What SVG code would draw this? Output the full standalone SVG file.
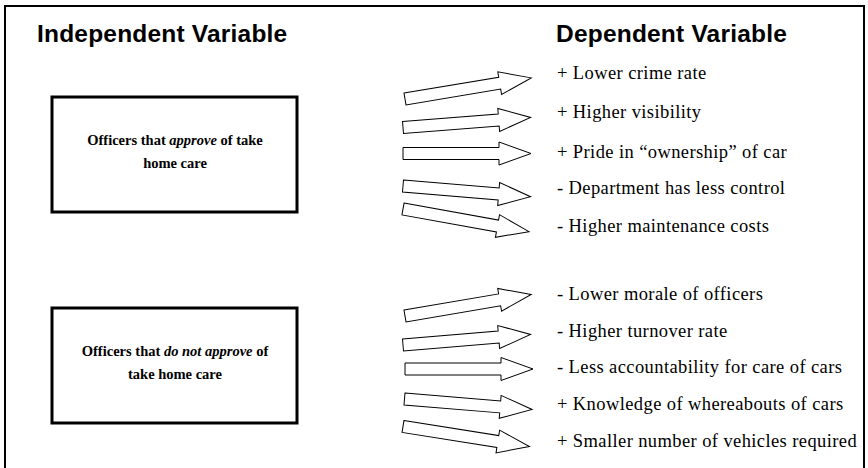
<svg xmlns="http://www.w3.org/2000/svg" width="868" height="468" viewBox="0 0 868 468">
<style>
.head{font-family:"Liberation Sans",Arial,sans-serif;font-weight:bold;font-size:24.5px;letter-spacing:0.2px;fill:#000}
.box{fill:#fff;stroke:#000;stroke-width:3}
.bt{font-family:"Liberation Serif","Times New Roman",serif;font-weight:bold;font-size:14.5px;fill:#000;text-anchor:middle}
.it{font-family:"Liberation Serif","Times New Roman",serif;font-size:18.5px;fill:#000;letter-spacing:0.4px}
.arr{fill:#fff;stroke:#000;stroke-width:1}
</style>
<defs>
<polygon id="arrow" class="arr" points="0,-6 96,-6 96,-11.5 128,0 96,11.5 96,6 0,6"/>
</defs>
<rect x="0" y="0" width="868" height="468" fill="#fff"/>
<rect x="5" y="6" width="859" height="470" fill="none" stroke="#000" stroke-width="2"/>
<g id="titles">
<text class="head" x="37" y="42">Independent Variable</text>
<text class="head" x="556" y="42">Dependent Variable</text>
</g>
<g id="node-approve">
<rect class="box" x="52" y="97" width="245" height="115"/>
<text class="bt" x="175" y="145">Officers that <tspan font-style="italic">approve</tspan> of take</text>
<text class="bt" x="175" y="168">home care</text>
</g>
<g id="node-disapprove">
<rect class="box" x="52" y="308" width="245" height="115"/>
<text class="bt" x="175" y="356">Officers that <tspan font-style="italic">do not approve</tspan> of</text>
<text class="bt" x="175" y="379">take home care</text>
</g>
<g id="connectors">
<use href="#arrow" transform="translate(405,99) rotate(-9.5)"/>
<use href="#arrow" transform="translate(403,127.5) rotate(-4.5)"/>
<use href="#arrow" transform="translate(403,153.5)"/>
<use href="#arrow" transform="translate(403,186) rotate(4.8)"/>
<use href="#arrow" transform="translate(403,209) rotate(10.2)"/>
<use href="#arrow" transform="translate(405,316) rotate(-9.7)"/>
<use href="#arrow" transform="translate(403,345) rotate(-4.75)"/>
<use href="#arrow" transform="translate(405,369)"/>
<use href="#arrow" transform="translate(404.5,399) rotate(4.7)"/>
<use href="#arrow" transform="translate(403,426.5) rotate(9)"/>
</g>
<g id="effects-approve">
<text class="it" x="557" y="79">+ Lower crime rate</text>
<text class="it" x="557" y="118">+ Higher visibility</text>
<text class="it" x="557" y="158">+ Pride in “ownership” of car</text>
<text class="it" x="557" y="194">- Department has less control</text>
<text class="it" x="557" y="232">- Higher maintenance costs</text>
</g>
<g id="effects-disapprove">
<text class="it" x="557" y="300">- Lower morale of officers</text>
<text class="it" x="557" y="337">- Higher turnover rate</text>
<text class="it" x="557" y="373">- Less accountability for care of cars</text>
<text class="it" x="557" y="410">+ Knowledge of whereabouts of cars</text>
<text class="it" x="557" y="447">+ Smaller number of vehicles required</text>
</g>
</svg>
